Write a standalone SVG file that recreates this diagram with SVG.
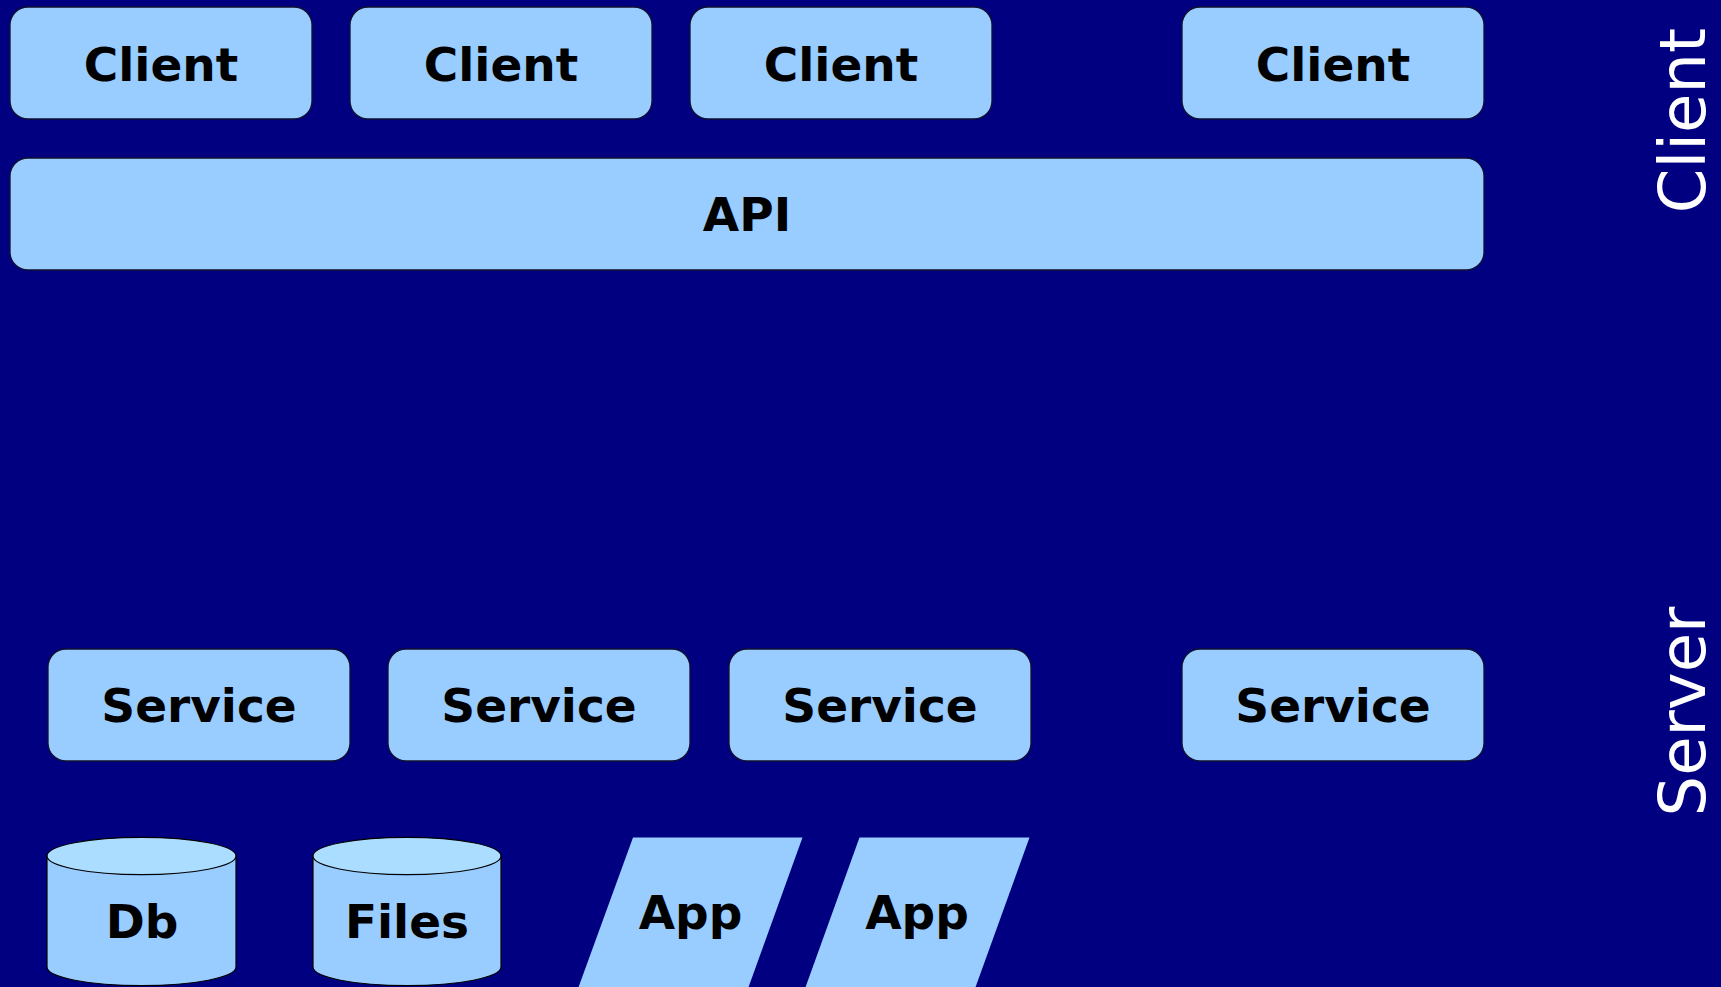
<svg xmlns="http://www.w3.org/2000/svg" width="1721" height="987" viewBox="0 0 1721 987">
<style>
.box{fill:#99ccff;stroke:#101030;stroke-width:1.3}
.cyl{fill:#99ccff;stroke:#000;stroke-width:1.2}
.cyltop{fill:#aaddff;stroke:#000;stroke-width:1.2}
.para{fill:#99ccff;stroke:none}
.lbl{font-family:"DejaVu Sans","Liberation Sans",sans-serif;font-weight:bold;font-size:47px;fill:#000;text-anchor:middle}
.side{font-family:"DejaVu Sans","Liberation Sans",sans-serif;font-size:64px;fill:#fff;text-anchor:middle}
</style>
<rect x="0" y="0" width="1721" height="987" fill="#000080"/>
<g id="client1"><rect class="box" x="10" y="7" width="302" height="112" rx="18"/><text class="lbl" x="161" y="81">Client</text></g>
<g id="client2"><rect class="box" x="350" y="7" width="302" height="112" rx="18"/><text class="lbl" x="501" y="81">Client</text></g>
<g id="client3"><rect class="box" x="690" y="7" width="302" height="112" rx="18"/><text class="lbl" x="841" y="81">Client</text></g>
<g id="client4"><rect class="box" x="1182" y="7" width="302" height="112" rx="18"/><text class="lbl" x="1333" y="81">Client</text></g>
<g id="api"><rect class="box" x="10" y="158" width="1474" height="112" rx="18"/><text class="lbl" x="747" y="231">API</text></g>
<g id="service1"><rect class="box" x="48" y="649" width="302" height="112" rx="18"/><text class="lbl" x="199" y="722">Service</text></g>
<g id="service2"><rect class="box" x="388" y="649" width="302" height="112" rx="18"/><text class="lbl" x="539" y="722">Service</text></g>
<g id="service3"><rect class="box" x="729" y="649" width="302" height="112" rx="18"/><text class="lbl" x="880" y="722">Service</text></g>
<g id="service4"><rect class="box" x="1182" y="649" width="302" height="112" rx="18"/><text class="lbl" x="1333" y="722">Service</text></g>
<g id="db">
<path class="cyl" d="M47,856 L47,967 A94.5,18.7 0 0 0 236,967 L236,856 Z"/>
<ellipse class="cyltop" cx="141.5" cy="856" rx="94.5" ry="18.7"/>
<text class="lbl" x="142" y="938">Db</text>
</g>
<g id="files">
<path class="cyl" d="M313,856 L313,967 A94,18.7 0 0 0 501,967 L501,856 Z"/>
<ellipse class="cyltop" cx="407" cy="856" rx="94" ry="18.7"/>
<text class="lbl" x="407" y="938">Files</text>
</g>
<g id="app1"><polygon class="para" points="633,837.5 802.5,837.5 747.5,990 577.5,990"/><text class="lbl" x="690.5" y="929">App</text></g>
<g id="app2"><polygon class="para" points="859.5,837.5 1029.5,837.5 974.5,990 804.5,990"/><text class="lbl" x="917" y="929">App</text></g>
<g id="lane-client"><text class="side" transform="translate(1705,120.5) rotate(-90)">Client</text></g>
<g id="lane-server"><text class="side" transform="translate(1705,711.5) rotate(-90)">Server</text></g>
<g id="connectors"></g>
</svg>
